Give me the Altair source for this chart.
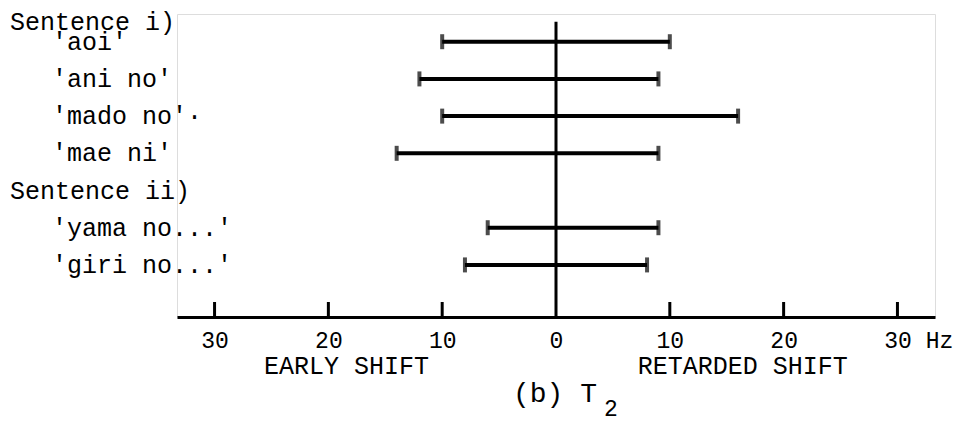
import altair as alt
import pandas as pd

# ---- data ----
items = ["'aoi'", "'ani no'", "'mado no'·", "'mae ni'", "'yama no...'", "'giri no...'"]
rows = [1, 2, 3, 4, 6, 7]
early = [-10, -12, -10, -14, -6, -8]
retarded = [10, 9, 16, 9, 9, 8]

headers = ["Sentence i)", "Sentence ii)"]
header_rows = [0.46, 5]

tick_values = [-30, -20, -10, 0, 10, 20, 30]
minor_ticks = [-30, -20, -10, 10, 20, 30]

shift_labels = ["EARLY SHIFT", "RETARDED SHIFT"]
shift_pos = [-18.4, 16.4]

W, H = 758, 303
FONT = "Liberation Mono"

bars = pd.DataFrame({"item": items, "row": rows, "lo": early, "hi": retarded})
hdr = pd.DataFrame({"label": headers, "row": header_rows})
ticks = pd.DataFrame({"v": minor_ticks})
shifts = pd.DataFrame({"label": shift_labels, "pos": shift_pos})

xscale = alt.Scale(domain=[-33.3, 33.3], nice=False, zero=False)
yscale = alt.Scale(domain=[0.255, 8.4], nice=False, zero=False, reverse=True)
xaxis = alt.Axis(
    title=None, values=tick_values, labelExpr="'' + abs(datum.value)",
    ticks=False, grid=False, domainColor="black", domainWidth=3,
    labelFont=FONT, labelFontSize=23, labelColor="black", labelPadding=12,
)

base = alt.Chart(bars)

bar_rule = base.mark_rule(color="black", strokeWidth=4).encode(
    x=alt.X("lo:Q", scale=xscale, axis=xaxis),
    x2="hi:Q",
    y=alt.Y("row:Q", scale=yscale, axis=None),
)
cap_lo = base.mark_tick(color="black", orient="vertical", size=15, thickness=4).encode(
    x=alt.X("lo:Q", scale=xscale, axis=xaxis),
    y=alt.Y("row:Q", scale=yscale, axis=None),
)
cap_hi = base.mark_tick(color="black", orient="vertical", size=15, thickness=4).encode(
    x=alt.X("hi:Q", scale=xscale, axis=xaxis),
    y=alt.Y("row:Q", scale=yscale, axis=None),
)
item_text = base.mark_text(font=FONT, fontSize=25, align="left", baseline="middle", color="black").encode(
    x=alt.value(-125),
    y=alt.Y("row:Q", scale=yscale, axis=None),
    text="item:N",
)
hdr_text = alt.Chart(hdr).mark_text(font=FONT, fontSize=25, align="left", baseline="middle", color="black").encode(
    x=alt.value(-167),
    y=alt.Y("row:Q", scale=yscale, axis=None),
    text="label:N",
)
zero_line = alt.Chart(hdr).transform_filter("datum.row < 1").mark_rule(color="black", strokeWidth=3).encode(
    x=alt.datum(0, scale=xscale, axis=xaxis),
    y=alt.Y("row:Q", scale=yscale, axis=None),
    y2=alt.value(H),
)
up_ticks = alt.Chart(ticks).mark_rule(color="black", strokeWidth=3).encode(
    x=alt.X("v:Q", scale=xscale, axis=xaxis),
    y=alt.value(H - 15),
    y2=alt.value(H),
)
shift_text = alt.Chart(shifts).mark_text(font=FONT, fontSize=25, align="center", baseline="middle", color="black").encode(
    x=alt.X("pos:Q", scale=xscale, axis=xaxis),
    y=alt.value(H + 49),
    text="label:N",
)
hz_text = alt.Chart(shifts).transform_filter("datum.pos > 0").mark_text(
    font=FONT, fontSize=23, align="center", baseline="middle", color="black", text="Hz", dx=42
).encode(
    x=alt.datum(30, scale=xscale, axis=xaxis),
    y=alt.value(H + 24),
)
title_text = alt.Chart(hdr).transform_filter("datum.row < 1").mark_text(
    font=FONT, fontSize=28, align="left", baseline="alphabetic", color="black", text="(b) T"
).encode(x=alt.value(336), y=alt.value(H + 85))
sub_text = alt.Chart(hdr).transform_filter("datum.row < 1").mark_text(
    font=FONT, fontSize=23, align="left", baseline="alphabetic", color="black", text="2"
).encode(x=alt.value(427), y=alt.value(H + 99))

chart = alt.layer(
    zero_line, bar_rule, cap_lo, cap_hi, item_text, hdr_text, up_ticks, shift_text, hz_text, title_text, sub_text
).properties(
    width=W, height=H,
    autosize=alt.AutoSizeParams(type="none"),
    padding={"left": 169, "top": 6, "right": 18, "bottom": 110},
).configure_view(stroke=None).configure(background="white")

chart.save("out.html", embed_options={"renderer": "svg", "actions": False})
